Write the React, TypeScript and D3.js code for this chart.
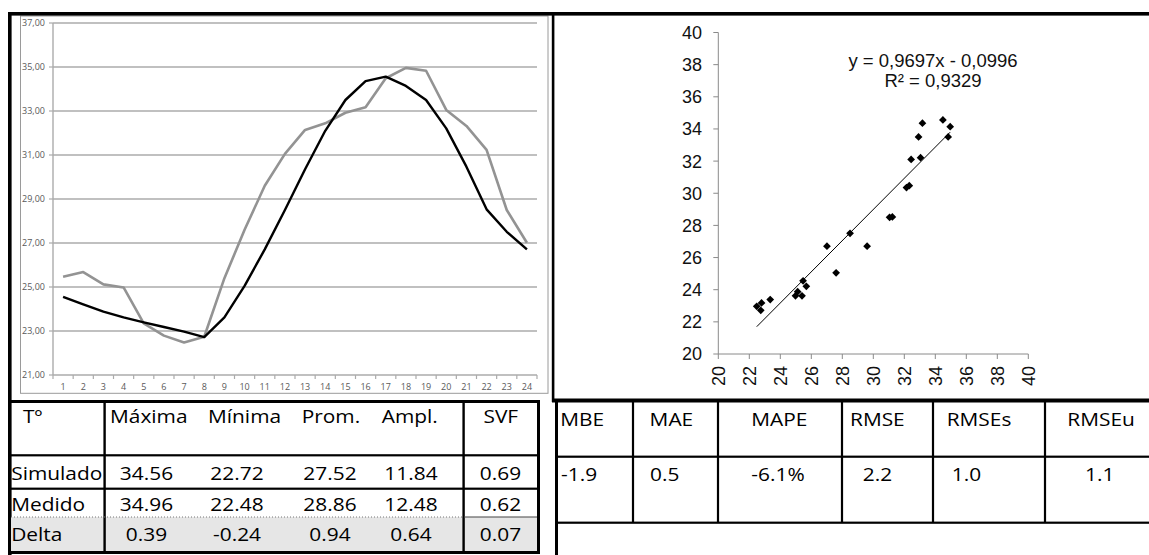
import React from "react";
import * as d3 from "d3";

const hours = [1, 2, 3, 4, 5, 6, 7, 8, 9, 10, 11, 12, 13, 14, 15, 16, 17, 18, 19, 20, 21, 22, 23, 24];
const simulado = [24.55, 24.21, 23.88, 23.62, 23.39, 23.18, 22.97, 22.72, 23.62, 25.05, 26.71, 28.5, 30.35, 32.1, 33.5, 34.36, 34.56, 34.14, 33.5, 32.21, 30.47, 28.53, 27.51, 26.71];
const medido = [25.47, 25.68, 25.12, 24.98, 23.35, 22.79, 22.48, 22.74, 25.4, 27.6, 29.6, 31.05, 32.14, 32.44, 32.92, 33.17, 34.49, 34.96, 34.83, 33.05, 32.32, 31.23, 28.5, 27.01];
const lineTicks = [21, 23, 25, 27, 29, 31, 33, 35, 37];
const scatterTicks = [20, 22, 24, 26, 28, 30, 32, 34, 36, 38, 40];
const trendSlope = 0.9697;
const trendIntercept = -0.0996;
const equationText = "y = 0,9697x - 0,0996";
const r2Text = "R² = 0,9329";

const tableHeaders = ["Tº", "Máxima", "Mínima", "Prom.", "Ampl.", "SVF"];
const rowSimulado = ["Simulado", "34.56", "22.72", "27.52", "11.84", "0.69"];
const rowMedido = ["Medido", "34.96", "22.48", "28.86", "12.48", "0.62"];
const rowDelta = ["Delta", "0.39", "-0.24", "0.94", "0.64", "0.07"];
const metricHeaders = ["MBE", "MAE", "MAPE", "RMSE", "RMSEs", "RMSEu"];
const metricValues = ["-1.9", "0.5", "-6.1%", "2.2", "1.0", "1.1"];

const TF = "'Open Sans', sans-serif";

function T({ x, y, anchor = "start", children, fill = "#000" }: any) {
  return (
    <text
      transform={`translate(${x},${y}) scale(1.13,1)`}
      textAnchor={anchor}
      fontFamily={TF}
      fontSize={18.5}
      fill={fill}
    >
      {children}
    </text>
  );
}

export default function App() {
  // left line chart
  const xL = d3.scaleBand<number>().domain(hours).range([53, 537]);
  const yL = d3.scaleLinear().domain([21, 37]).range([375, 23]);
  const cx = (h: number) => (xL(h) as number) + xL.bandwidth() / 2;
  const lineGen = d3
    .line<number>()
    .x((_, i) => cx(hours[i]))
    .y((d) => yL(d));
  const fmt = (v: number) => d3.format(".2f")(v).replace(".", ",");
  const boundaries = [...hours.map((h) => xL(h) as number), 537];

  // scatter
  const xS = d3.scaleLinear().domain([20, 40]).range([718.3, 1028.3]);
  const yS = d3.scaleLinear().domain([20, 40]).range([354, 32.5]);
  const mMin = d3.min(medido) as number;
  const mMax = d3.max(medido) as number;
  const diamond = d3.symbol().type(d3.symbolSquare).size(30)() as string;

  const headerX = [23, 110, 208, 301.7, 381.7];
  const valueX = [146.5, 237, 330, 411, 500.5];
  const rowBase = [480, 510.7, 540.7];
  const rows = [rowSimulado, rowMedido, rowDelta];
  const mHeadX = [560.3, 649.6, 751.3, 850, 946.7, 1067.3];
  const mValX = [561, 650, 751.3, 862.7, 951.7, 1085];
  const rColLines = [633, 718, 842, 933, 1045];

  return (
    <svg
      width={1149}
      height={555}
      style={{ position: "absolute", left: 0, top: 0, background: "#fff" }}
    >
      <rect x={0} y={0} width={1149} height={555} fill="#fff" />

      {/* left chart frame */}
      <rect x={20.5} y={16} width={527.5} height={377.3} fill="none" stroke="#9a9a9a" strokeWidth={1} />
      {lineTicks.map((t) => (
        <line key={"g" + t} x1={53} x2={537} y1={yL(t)} y2={yL(t)} stroke="#ababab" strokeWidth={1.4} />
      ))}
      <line x1={53} x2={53} y1={yL(37)} y2={yL(21)} stroke="#ababab" strokeWidth={1.4} />
      {lineTicks.map((t) => (
        <g key={"yl" + t}>
          <line x1={49} x2={53} y1={yL(t)} y2={yL(t)} stroke="#ababab" strokeWidth={1.2} />
          <text x={45} y={yL(t)} dy="0.35em" textAnchor="end" fontFamily={TF} fontSize={9} fill="#595959">
            {fmt(t)}
          </text>
        </g>
      ))}
      {boundaries.map((b, i) => (
        <line key={"xt" + i} x1={b} x2={b} y1={375} y2={379} stroke="#ababab" strokeWidth={1.2} />
      ))}
      {hours.map((h) => (
        <text key={"xl" + h} x={cx(h)} y={390} textAnchor="middle" fontFamily={TF} fontSize={9} fill="#595959">
          {h}
        </text>
      ))}
      <path d={lineGen(medido) as string} fill="none" stroke="#939393" strokeWidth={2.6} strokeLinejoin="round" />
      <path d={lineGen(simulado) as string} fill="none" stroke="#000" strokeWidth={2.4} strokeLinejoin="round" />

      {/* scatter */}
      <line x1={xS(20)} x2={xS(20)} y1={yS(40)} y2={yS(20)} stroke="#8a8a8a" strokeWidth={1} />
      <line x1={xS(20)} x2={xS(40)} y1={yS(20)} y2={yS(20)} stroke="#8a8a8a" strokeWidth={1} />
      {scatterTicks.map((t) => (
        <g key={"sy" + t}>
          <line x1={xS(20) - 5} x2={xS(20)} y1={yS(t)} y2={yS(t)} stroke="#8a8a8a" strokeWidth={1} />
          <text x={702} y={yS(t)} dy="0.36em" textAnchor="end" fontFamily="'Liberation Sans', Arial, sans-serif" fontSize={18} fill="#111">
            {t}
          </text>
        </g>
      ))}
      {scatterTicks.map((t) => (
        <g key={"sx" + t}>
          <line x1={xS(t)} x2={xS(t)} y1={yS(20)} y2={yS(20) + 5} stroke="#8a8a8a" strokeWidth={1} />
          <text
            transform={`translate(${xS(t)},${366}) rotate(-90)`}
            dy="0.36em"
            textAnchor="end"
            fontFamily="'Liberation Sans', Arial, sans-serif"
            fontSize={18}
            fill="#111"
          >
            {t}
          </text>
        </g>
      ))}
      <line
        x1={xS(mMin)}
        y1={yS(trendSlope * mMin + trendIntercept)}
        x2={xS(mMax)}
        y2={yS(trendSlope * mMax + trendIntercept)}
        stroke="#000"
        strokeWidth={1}
      />
      {medido.map((m, i) => (
        <path key={"p" + i} d={diamond} transform={`translate(${xS(m)},${yS(simulado[i])}) rotate(45)`} fill="#000" />
      ))}
      <text x={933} y={66.5} textAnchor="middle" fontFamily="'Liberation Sans', Arial, sans-serif" fontSize={18.5} fill="#111">
        {equationText}
      </text>
      <text x={933} y={87} textAnchor="middle" fontFamily="'Liberation Sans', Arial, sans-serif" fontSize={18.5} fill="#111">
        {r2Text}
      </text>

      {/* outer borders */}
      <rect x={8} y={12} width={1141} height={3.6} fill="#000" />
      <rect x={8} y={12} width={3.6} height={543} fill="#000" />
      <rect x={551.8} y={12} width={2.6} height={390} fill="#000" />

      {/* left table */}
      <rect x={11} y={517} width={526} height={34} fill="#e6e6e6" />
      <rect x={8} y={400} width={532} height={3} fill="#000" />
      <rect x={8} y={551} width={532} height={3} fill="#000" />
      <rect x={537} y={400} width={3} height={154} fill="#000" />
      <rect x={103.4} y={402} width={2.4} height={150} fill="#000" />
      <rect x={462.4} y={402} width={2.4} height={150} fill="#000" />
      <rect x={10} y={454.2} width={528} height={2.2} fill="#000" />
      <rect x={10} y={487.6} width={528} height={2.2} fill="#000" />
      <line x1={11} x2={463} y1={517} y2={517} stroke="#777" strokeWidth={1} strokeDasharray="1 2" />
      <line x1={464} x2={537} y1={517} y2={517} stroke="#444" strokeWidth={1.2} />
      {tableHeaders.map((h, i) =>
        i < 5 ? (
          <T key={"th" + i} x={headerX[i]} y={423}>
            {h}
          </T>
        ) : (
          <T key={"th" + i} x={500.8} y={423} anchor="middle">
            {h}
          </T>
        )
      )}
      {rows.map((r, ri) =>
        r.map((c, ci) =>
          ci === 0 ? (
            <T key={"c" + ri + ci} x={11.2} y={rowBase[ri]}>
              {c}
            </T>
          ) : (
            <T key={"c" + ri + ci} x={valueX[ci - 1]} y={rowBase[ri]} anchor="middle">
              {c}
            </T>
          )
        )
      )}

      {/* right table */}
      <rect x={552} y={398.5} width={597} height={4} fill="#000" />
      <rect x={555} y={400} width={3} height={155} fill="#000" />
      <rect x={556} y={455.6} width={593} height={2.2} fill="#000" />
      <rect x={556} y={521.6} width={593} height={2.2} fill="#000" />
      {rColLines.map((c, i) => (
        <rect key={"rc" + i} x={c - 1.1} y={402} width={2.2} height={121} fill="#000" />
      ))}
      {metricHeaders.map((h, i) => (
        <T key={"mh" + i} x={mHeadX[i]} y={425.7}>
          {h}
        </T>
      ))}
      {metricValues.map((v, i) => (
        <T key={"mv" + i} x={mValX[i]} y={480.7}>
          {v}
        </T>
      ))}
    </svg>
  );
}
